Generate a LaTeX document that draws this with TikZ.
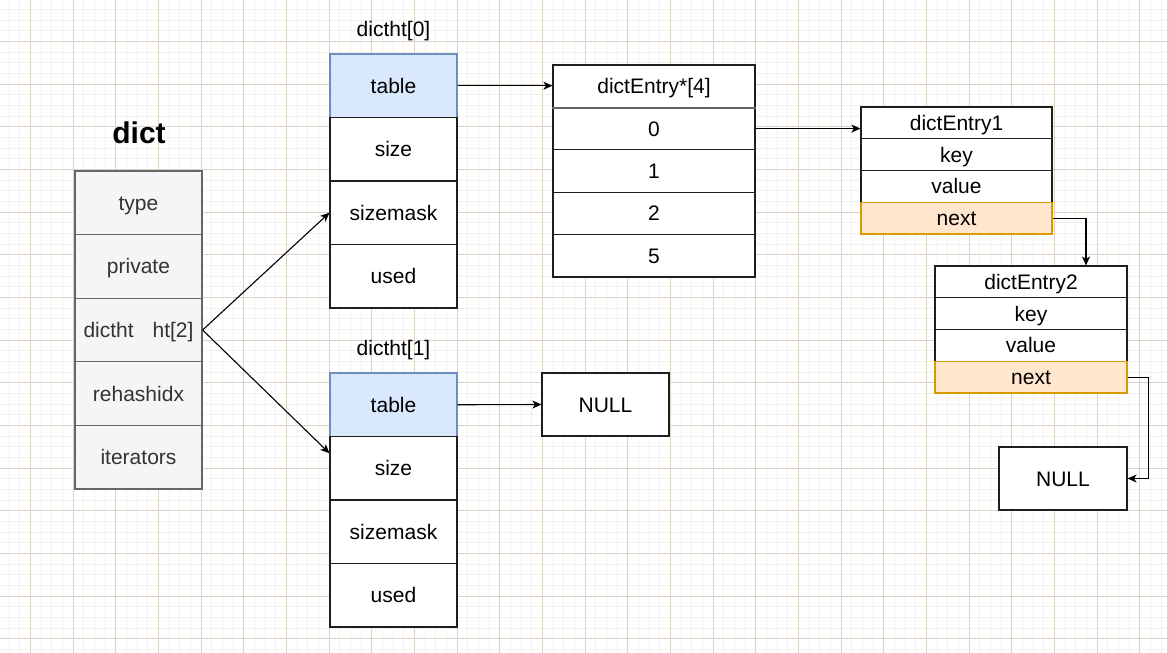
\documentclass[tikz,border=0pt]{standalone}
\usepackage{fontspec}
\setmainfont{Liberation Sans}
\usetikzlibrary{arrows.meta}
\definecolor{gridminor}{RGB}{244,240,236}
\definecolor{gridmajor}{RGB}{222,210,198}
\definecolor{greyfill}{RGB}{245,245,245}
\definecolor{greyline}{RGB}{102,102,102}
\definecolor{greytext}{RGB}{51,51,51}
\definecolor{bluefill}{RGB}{218,232,252}
\definecolor{blueline}{RGB}{108,142,191}
\definecolor{orangefill}{RGB}{255,230,204}
\definecolor{orangeline}{RGB}{215,155,0}
\definecolor{boxline}{RGB}{30,30,30}
\tikzset{
  txt/.style={font=\fontsize{21}{25}\selectfont, text height=15pt, text depth=0pt},
  cell/.style={txt, draw=boxline, fill=white, line width=1.2pt, inner sep=0pt, rectangle},
  dictcell/.style={cell, draw=greyline, fill=greyfill, text=greytext, minimum width=127pt, minimum height=63.6pt},
  htcell/.style={cell, minimum width=127pt, minimum height=63.5pt},
  bluecell/.style={htcell, draw=blueline, fill=bluefill},
  arrcell/.style={cell, minimum width=202pt, minimum height=42.4pt},
  entry1cell/.style={cell, minimum width=191pt, minimum height=31.75pt},
  entry2cell/.style={cell, minimum width=192pt, minimum height=31.75pt},
  nextcell/.style={draw=orangeline, fill=orangefill},
  nullbox/.style={cell, minimum width=127pt, minimum height=63pt},
  title/.style={txt, inner sep=0pt},
  link/.style={draw=black, line width=1.1pt, -{Stealth[length=9pt,width=8pt,inset=2.5pt]}}
}
\begin{document}
\begin{tikzpicture}[x=1pt,y=-1pt]
  \useasboundingbox (0,0) rectangle (1167,653);
  % background grid
  \fill[white] (0,0) rectangle (1167,653);
  \foreach \i in {0,...,110} {
    \draw[gridminor, line width=0.9pt] (-1.667+\i*10.6667,0) -- (-1.667+\i*10.6667,653);
  }
  \foreach \i in {0,...,62} {
    \draw[gridminor, line width=0.9pt] (0,-1.333+\i*10.6667) -- (1167,-1.333+\i*10.6667);
  }
  \foreach \i in {0,...,27} {
    \draw[gridmajor, line width=0.9pt] (30.333+\i*42.6667,0) -- (30.333+\i*42.6667,653);
  }
  \foreach \i in {0,...,15} {
    \draw[gridmajor, line width=0.9pt] (0,41.333+\i*42.6667) -- (1167,41.333+\i*42.6667);
  }

  % dict structure
  \node[font=\fontsize{30}{34}\selectfont\bfseries, text height=21.5pt, text depth=0pt, inner sep=0pt] (dictlbl) at (139,133) {dict};
  \node[dictcell] (dtype) at (138.5,202.8) {type};
  \node[dictcell] (dpriv) at (138.5,266.4) {private};
  \node[dictcell] (dht)   at (138.5,330.0) {dictht\hspace{0.9em}ht[2]};
  \node[dictcell] (drehash) at (138.5,393.6) {rehashidx};
  \node[dictcell] (diter) at (138.5,457.2) {iterators};

  % dictht[0]
  \node[title] (ht0lbl) at (393.5,28.5) {dictht[0]};
  \node[bluecell] (tablea) at (393.5,85.75) {table};
  \node[htcell] (sizea) at (393.5,149.25) {size};
  \node[htcell] (maska) at (393.5,212.75) {sizemask};
  \node[htcell] (useda) at (393.5,276.25) {used};

  % dictht[1]
  \node[title] (ht1lbl) at (393.5,347.5) {dictht[1]};
  \node[bluecell] (tableb) at (393.5,404.75) {table};
  \node[htcell] (sizeb) at (393.5,468.25) {size};
  \node[htcell] (maskb) at (393.5,531.75) {sizemask};
  \node[htcell] (usedb) at (393.5,595.25) {used};

  % bucket array
  \node[arrcell] (arrhead) at (654,86.2) {dictEntry*[4]};
  \node[arrcell] (slot0) at (654,128.6) {0};
  \node[arrcell] (slot1) at (654,171.0) {1};
  \node[arrcell] (slot2) at (654,213.4) {2};
  \node[arrcell] (slot5) at (654,255.8) {5};
  \draw[greyline, line width=2pt] (arrhead.south west) -- (arrhead.south east);

  % NULL for dictht[1]
  \node[nullbox] (nulla) at (605.5,404.5) {NULL};

  % dictEntry1
  \node[entry1cell] (ea) at (956.5,122.9) {dictEntry1};
  \node[entry1cell] (eakey) at (956.5,154.6) {key};
  \node[entry1cell] (eaval) at (956.5,186.4) {value};
  \node[entry1cell, nextcell] (eanext) at (956.5,218.1) {next};

  % dictEntry2
  \node[entry2cell] (eb) at (1031,281.9) {dictEntry2};
  \node[entry2cell] (ebkey) at (1031,313.6) {key};
  \node[entry2cell] (ebval) at (1031,345.4) {value};
  \node[entry2cell, nextcell] (ebnext) at (1031,377.1) {next};

  % NULL at the end of the chain
  \node[nullbox, minimum width=128pt] (nullb) at (1063,478.5) {NULL};

  % connectors
  \draw[link] (dht.east) -- (maska.west);
  \draw[link] (dht.east) -- ([yshift=15pt]sizeb.west);
  \draw[link] (tablea.east) -- (tablea.east -| arrhead.west);
  \draw[link] (tableb.east) -- (nulla.west);
  \draw[link] (slot0.east) -- (slot0.east -| ea.west);
  \draw[link] (eanext.east) -| ([xshift=55pt]eb.north);
  \draw[link] (ebnext.east) -- ++(21,0) |- (nullb.east);
\end{tikzpicture}
\end{document}
